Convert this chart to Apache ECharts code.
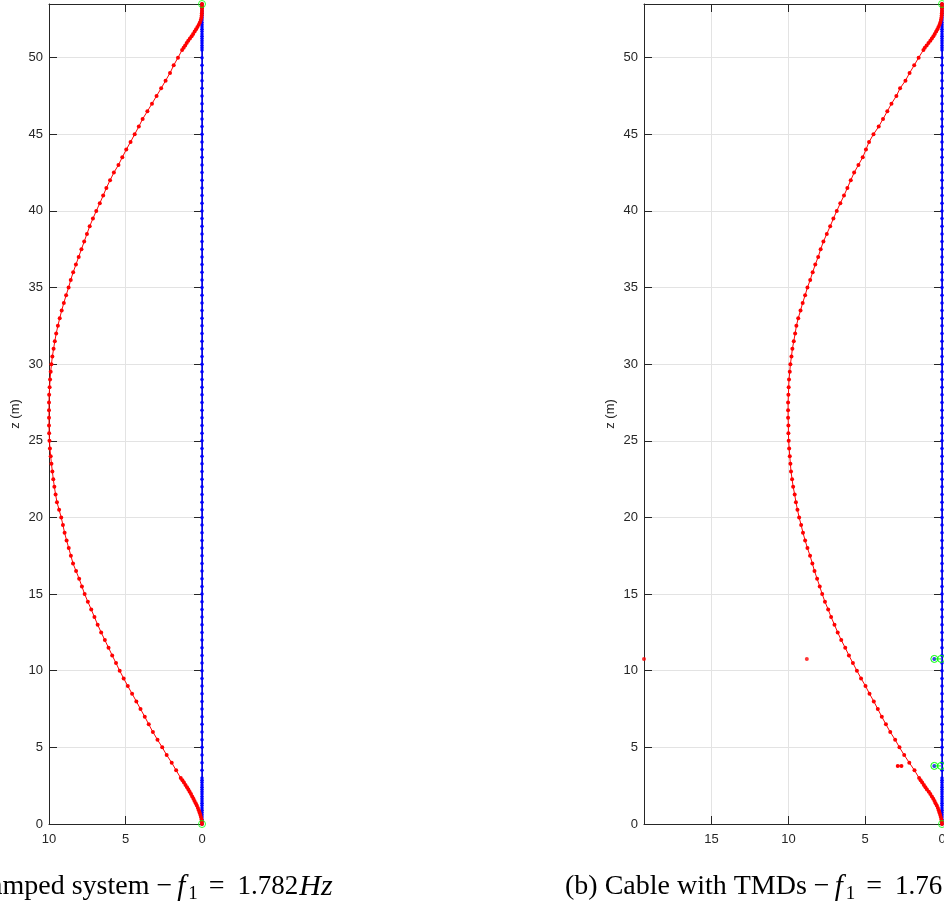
<!DOCTYPE html>
<html><head><meta charset="utf-8">
<script src="https://cdn.jsdelivr.net/npm/echarts@6/dist/echarts.min.js"></script>
<style>html,body{margin:0;padding:0;background:#fff}#c{width:944px;height:909px}</style>
</head><body><div id="c"></div>
<script>
// z positions of the cable nodes (m)
const zNodes = [0,0.15,0.3,0.45,0.6,0.75,0.9,1.05,1.2,1.35,1.5,1.65,1.8,1.95,2.1,2.25,2.4,2.55,2.7,2.85,3.0,
  3.5,4.0,4.5,5.0,5.5,6.0,6.5,7.0,7.5,8.0,8.5,9.0,9.5,10.0,
  10.5,11.0,11.5,12.0,12.5,13.0,13.5,14.0,14.5,15.0,15.5,16.0,16.5,17.0,17.5,18.0,18.5,19.0,19.5,20.0,
  20.5,21.0,21.5,22.0,22.5,23.0,23.5,24.0,24.5,25.0,25.5,26.0,26.5,27.0,27.5,28.0,28.5,29.0,29.5,30.0,
  30.5,31.0,31.5,32.0,32.5,33.0,33.5,34.0,34.5,35.0,35.5,36.0,36.5,37.0,37.5,38.0,38.5,39.0,39.5,40.0,
  40.5,41.0,41.5,42.0,42.5,43.0,43.5,44.0,44.5,45.0,45.5,46.0,46.5,47.0,47.5,48.0,48.5,49.0,49.5,50.0,50.5,
  50.65,50.8,50.95,51.1,51.25,51.4,51.55,51.7,51.85,52.0,52.15,52.3,52.45,52.6,52.75,52.9,53.05,53.2,53.35,53.5];

// (a) undamped system: mode displacement (red)
const redLeft = [0,0.01,0.03,0.07,0.11,0.16,0.21,0.27,0.34,0.41,0.49,0.56,0.64,0.72,0.81,0.89,0.98,1.08,1.18,1.28,1.39,
  1.69,1.98,2.31,2.60,2.91,3.21,3.48,3.74,4.02,4.29,4.57,4.85,5.12,5.38,
  5.62,5.87,6.11,6.35,6.59,6.82,7.03,7.24,7.46,7.67,7.85,8.03,8.23,8.43,8.57,8.71,8.85,8.98,9.09,9.20,
  9.34,9.48,9.57,9.65,9.72,9.78,9.84,9.89,9.94,9.97,9.99,10.0,10.0,10.0,10.0,9.99,9.96,9.93,9.89,9.84,
  9.78,9.70,9.62,9.53,9.42,9.30,9.17,9.03,8.88,8.72,8.58,8.42,8.24,8.06,7.88,7.70,7.52,7.34,7.13,6.91,
  6.68,6.46,6.25,6.01,5.76,5.46,5.21,4.95,4.67,4.40,4.13,3.88,3.57,3.27,2.97,2.67,2.38,2.09,1.85,1.57,1.30,
  1.20,1.10,1.00,0.90,0.79,0.68,0.58,0.48,0.39,0.30,0.21,0.14,0.08,0.04,0.02,0.01,0,0,0,0];

// (b) cable with TMDs (red)
const redRight = [0,0.01,0.04,0.08,0.12,0.17,0.21,0.27,0.34,0.42,0.49,0.57,0.66,0.76,0.86,0.98,1.08,1.18,1.29,1.39,1.49,
  1.79,2.13,2.46,2.77,3.05,3.37,3.65,3.92,4.18,4.44,4.72,4.98,5.27,5.54,
  5.80,6.06,6.30,6.56,6.79,7.00,7.22,7.41,7.62,7.80,7.96,8.13,8.30,8.44,8.59,8.76,8.91,9.05,9.17,9.30,
  9.41,9.51,9.59,9.69,9.76,9.83,9.87,9.91,9.95,9.98,10.0,10.0,10.02,10.02,10.02,10.0,9.98,9.96,9.91,9.87,
  9.80,9.74,9.65,9.56,9.48,9.36,9.21,9.07,8.91,8.76,8.58,8.42,8.25,8.06,7.90,7.72,7.50,7.28,7.07,6.85,
  6.62,6.38,6.16,5.94,5.72,5.44,5.16,4.95,4.75,4.46,4.12,3.84,3.56,3.29,2.97,2.73,2.38,2.11,1.81,1.52,1.21,
  1.12,1.00,0.88,0.76,0.66,0.56,0.47,0.38,0.30,0.23,0.16,0.11,0.07,0.04,0.02,0.01,0,0,0,0];

// the other displacement component (blue) is zero along the cable
const blueValue = 0;

// TMD locations and extra points (b)
const tmdZ = [10.77, 3.79];
const redTmdFar = [[19.4, 10.77], [8.8, 10.77]];
const redTmdNear = [[2.88, 3.79], [2.64, 3.79]];
const blueTmd = [[0.5, 10.77], [0.5, 3.79]];
const tmdLinkX = [0.5, 0.06];
const supports = [[0, 0], [0, 53.5]];

const xMaxLeft = 10, xMaxRight = 19.4, zMax = 53.5;
const xTicks = 5, zTicks = 5;

const AX = '#262626', GRIDC = '#e3e3e3';
const FONT = 'Liberation Sans';

function xAx(gi, max, pos, main) {
  return {
    type: 'value', gridIndex: gi, position: pos, min: 0, max: max, interval: xTicks, inverse: true,
    axisLine: {show: true, onZero: false, lineStyle: {color: AX, width: 1}},
    axisTick: {show: true, inside: true, length: 8, lineStyle: {color: AX}},
    axisLabel: {show: main, margin: 9, color: AX, fontSize: 13, fontFamily: FONT,
      showMaxLabel: max % xTicks === 0 ? true : false},
    splitLine: {show: main, lineStyle: {color: GRIDC, width: 1}}
  };
}
function yAx(gi, pos, main) {
  return {
    type: 'value', gridIndex: gi, position: pos, min: 0, max: zMax, interval: zTicks,
    name: main ? 'z (m)' : '', nameLocation: 'middle', nameGap: 27, nameRotate: 90,
    nameTextStyle: {color: AX, fontSize: 13, fontFamily: FONT},
    axisLine: {show: true, onZero: false, lineStyle: {color: AX, width: 1}},
    axisTick: {show: true, inside: true, length: 8, lineStyle: {color: AX}},
    axisLabel: {show: main, margin: 6, color: AX, fontSize: 13, fontFamily: FONT, showMaxLabel: false},
    splitLine: {show: main, lineStyle: {color: GRIDC, width: 1}}
  };
}

const blueData = zNodes.map(z => [blueValue, z]);
const redLeftData = zNodes.map((z, i) => [redLeft[i], z]);
const redRightData = zNodes.map((z, i) => [redRight[i], z]);

function lineS(xi, yi, data, color, lw, ss) {
  return {type: 'line', xAxisIndex: xi, yAxisIndex: yi, data: data, symbol: 'circle', symbolSize: ss,
    showSymbol: true, lineStyle: {color: color, width: lw}, itemStyle: {color: color}, silent: true, z: 3};
}
function greenS(xi, yi, data) {
  return {type: 'scatter', xAxisIndex: xi, yAxisIndex: yi, data: data, symbol: 'circle', symbolSize: 7,
    itemStyle: {color: 'rgba(0,0,0,0)', borderColor: '#00ff00', borderWidth: 1}, silent: true, z: 5};
}

const series = [
  lineS(0, 0, blueData, '#0000ff', 1.5, 3.5),
  lineS(0, 0, redLeftData, '#ff0000', 1, 4),
  greenS(0, 0, supports),
  lineS(2, 2, blueData, '#0000ff', 1.5, 3.5),
  lineS(2, 2, redRightData, '#ff0000', 1, 4),
  {type: 'scatter', xAxisIndex: 2, yAxisIndex: 2, data: redTmdFar, symbol: 'circle', symbolSize: 4,
    itemStyle: {color: '#ff0000'}, silent: true, z: 4},
  lineS(2, 2, redTmdNear, '#ff0000', 1, 4),
  {type: 'scatter', xAxisIndex: 2, yAxisIndex: 2, data: blueTmd, symbol: 'circle', symbolSize: 4,
    itemStyle: {color: '#0000ff'}, silent: true, z: 4},
  greenS(2, 2, supports)
];
tmdZ.forEach(z => {
  const link = tmdLinkX.map(x => [x, z]);
  series.push({type: 'line', xAxisIndex: 2, yAxisIndex: 2, data: link, symbol: 'circle', symbolSize: 7,
    showSymbol: true, lineStyle: {color: '#00ff00', width: 1},
    itemStyle: {color: 'rgba(0,0,0,0)', borderColor: '#00ff00', borderWidth: 1}, silent: true, z: 5});
});

const SERIF = 'Liberation Serif';
const capRich = {
  f: {fontStyle: 'italic', fontFamily: SERIF, fontSize: 29, lineHeight: 34, padding: [0, 3, 0, 5]},
  s: {fontFamily: SERIF, fontSize: 19, lineHeight: 19, verticalAlign: 'bottom', padding: [0, 2, 0, 0]},
  e: {fontFamily: SERIF, fontSize: 28, lineHeight: 34, padding: [0, 13, 0, 9]},
  n: {fontFamily: SERIF, fontSize: 27, lineHeight: 34},
  h: {fontStyle: 'italic', fontFamily: SERIF, fontSize: 30, lineHeight: 34, padding: [0, 0, 0, 1]}
};

const option = {
  animation: false,
  backgroundColor: '#ffffff',
  grid: [
    {left: 49, top: 4, width: 153, height: 820, outerBoundsMode: 'none', containLabel: false},
    {left: 644, top: 4, width: 298, height: 820, outerBoundsMode: 'none', containLabel: false}
  ],
  xAxis: [xAx(0, xMaxLeft, 'bottom', true), xAx(0, xMaxLeft, 'top', false),
          xAx(1, xMaxRight, 'bottom', true), xAx(1, xMaxRight, 'top', false)],
  yAxis: [yAx(0, 'left', true), yAx(0, 'right', false), yAx(1, 'left', true), yAx(1, 'right', false)],
  series: series,
  graphic: [
    {type: 'text', x: -10, y: 870, silent: true,
     style: {text: 'amped system −{f|f}{s|1}{e|=}{n|1.782}{h|Hz}', fill: '#000', fontFamily: SERIF,
       fontSize: 28, lineHeight: 34, verticalAlign: 'top', align: 'left', rich: capRich}},
    {type: 'text', x: 565, y: 870, silent: true,
     style: {text: '(b) Cable with TMDs −{f|f}{s|1}{e|=}{n|1.76}', fill: '#000', fontFamily: SERIF,
       fontSize: 28, lineHeight: 34, verticalAlign: 'top', align: 'left', rich: capRich}}
  ]
};
const chart = echarts.init(document.getElementById('c'), null, {renderer: 'canvas'});
chart.setOption(option);
</script></body></html>
